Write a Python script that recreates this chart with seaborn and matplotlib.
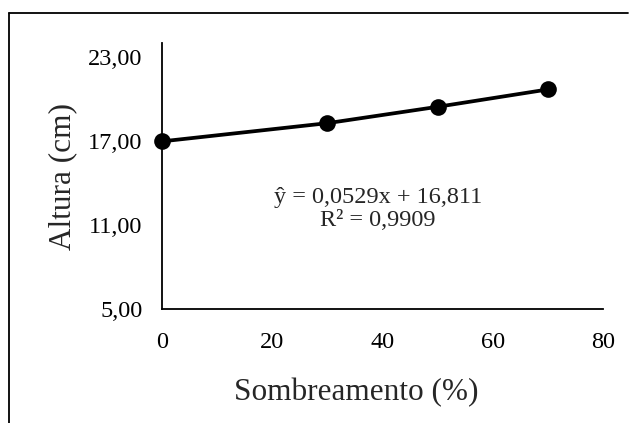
import matplotlib
matplotlib.use("Agg")
import matplotlib.pyplot as plt
import matplotlib.ticker as mticker
import pandas as pd
import seaborn as sns

# data
sombreamento = [0, 30, 50, 70]
altura = [17.0, 18.3, 19.47, 20.71]
y_ticks = [5, 11, 17, 23]
x_ticks = [0, 20, 40, 60, 80]
equation = "ŷ = 0,0529x + 16,811\nR² = 0,9909"

sns.set_theme(style="white")
plt.rcParams['font.family'] = ['Liberation Serif', 'DejaVu Serif']

df = pd.DataFrame({'sombreamento': sombreamento, 'altura': altura})

fig = plt.figure(figsize=(6.33, 4.23), dpi=100)
ax = fig.add_axes([162 / 633, 1 - 309.3 / 423, 441 / 633, 266.6 / 423])

sns.lineplot(data=df, x='sombreamento', y='altura', ax=ax, color='black',
             linewidth=2.7, marker='o', markersize=12, markeredgewidth=0, clip_on=False)

ax.set_xlim(0, 80)
ax.set_ylim(5, 24.05)
ax.set_xticks(x_ticks)
ax.set_yticks(y_ticks)
ax.yaxis.set_major_formatter(mticker.FuncFormatter(lambda v, p: f"{v:.2f}".replace('.', ',')))
ax.tick_params(axis='both', length=0, labelsize=17.5, colors='black')
ax.tick_params(axis='y', pad=14)
ax.tick_params(axis='x', pad=16)

for side in ['top', 'right']:
    ax.spines[side].set_visible(False)
for side in ['left', 'bottom']:
    ax.spines[side].set_color('black')
    ax.spines[side].set_linewidth(1.3)

ax.set_xlabel('')
ax.set_ylabel('')
fig.text(356.5 / 633, 1 - 393 / 423, 'Sombreamento (%)', ha='center', va='center', fontsize=22.5)
fig.text(62.6 / 633, 1 - 176.5 / 423, 'Altura (cm)', ha='center', va='center',
         rotation=90, fontsize=22.5)

ax.text(39.2, 12.18, equation, ha='center', va='center', multialignment='center',
        fontsize=17.5, linespacing=1.15)

# chart frame (bottom edge falls outside the picture)
fig.add_artist(plt.Line2D([8.5 / 633, 8.5 / 633], [0, 1 - 13.5 / 423], transform=fig.transFigure,
                          color='black', linewidth=1.3))
fig.add_artist(plt.Line2D([8.5 / 633, 628 / 633], [1 - 13.5 / 423, 1 - 13.5 / 423],
                          transform=fig.transFigure, color='black', linewidth=1.3))

fig.savefig('out.png', dpi=100)
